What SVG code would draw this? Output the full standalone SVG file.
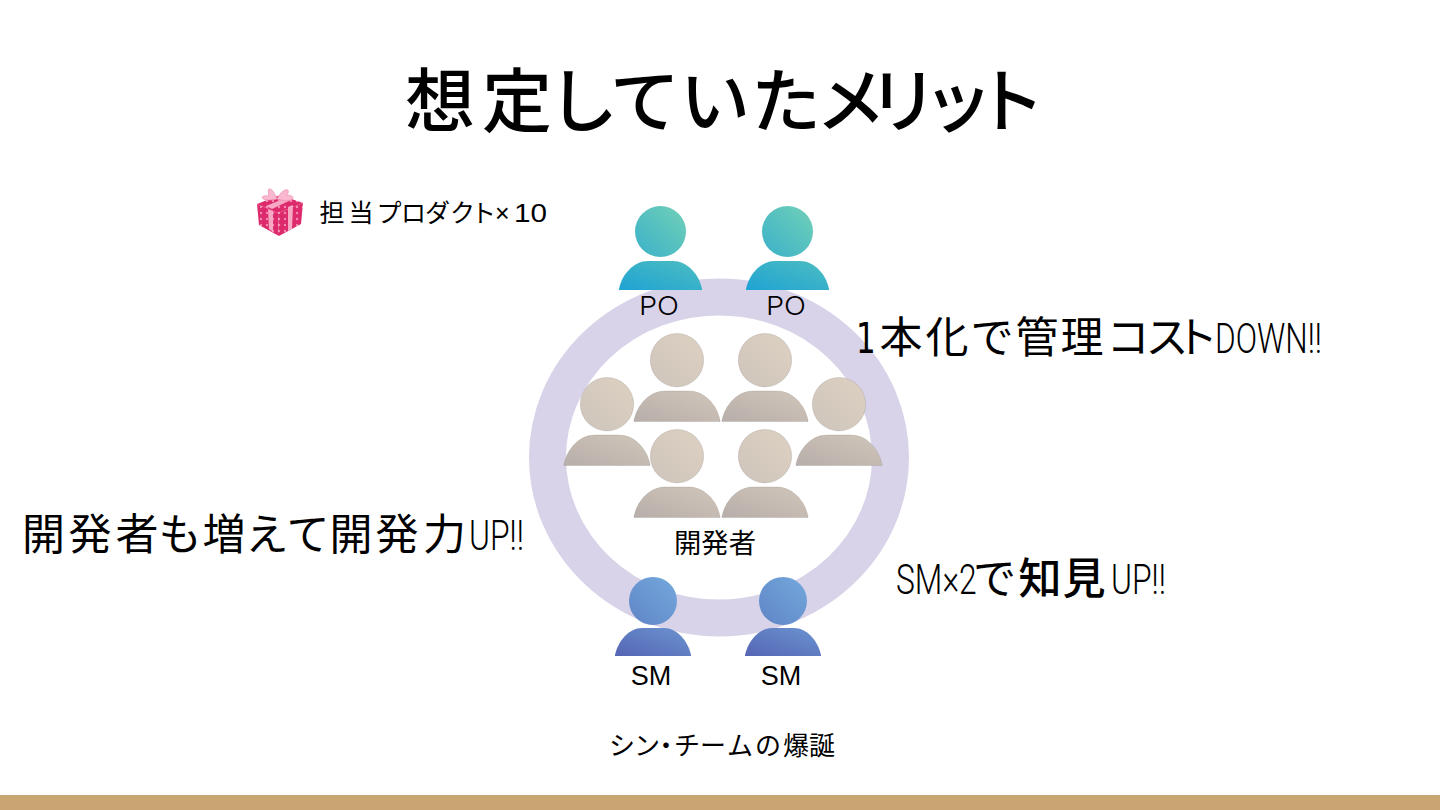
<svg xmlns="http://www.w3.org/2000/svg" width="1440" height="810" viewBox="0 0 1440 810">
<style>
.t{font-family:"Noto Sans CJK JP","Noto Sans",sans-serif;fill:#000}
.l{font-family:"Inter","Liberation Sans",sans-serif;font-weight:300;fill:#000;font-size:26px;text-anchor:middle}
.s{font-family:"Liberation Sans",sans-serif;fill:#000;font-size:27px;text-anchor:middle}
.n{font-family:"Roboto","Liberation Sans",sans-serif;font-weight:300;fill:#000}
.d{font-family:"DejaVu Sans",sans-serif;fill:#000}
.a{font-family:"Liberation Sans",sans-serif;fill:#000}
.edge{stroke:#8a7f7a;stroke-width:.4;stroke-opacity:.6}
</style>
<defs>
<linearGradient id="poH" x1="0" y1="1" x2="1" y2="0"><stop offset="0" stop-color="#3ab1c8"/><stop offset="1" stop-color="#72d0b8"/></linearGradient>
<linearGradient id="poB" x1="0" y1="1" x2="1" y2="0"><stop offset="0" stop-color="#1fa3d4"/><stop offset="1" stop-color="#4dbdc0"/></linearGradient>
<linearGradient id="smH" x1="0" y1="1" x2="1" y2="0"><stop offset="0" stop-color="#5f85c6"/><stop offset="1" stop-color="#74a8dc"/></linearGradient>
<linearGradient id="smB" x1="0" y1="1" x2="1" y2="0"><stop offset="0" stop-color="#5565b4"/><stop offset="1" stop-color="#6b94d0"/></linearGradient>
<linearGradient id="dvH" x1="0" y1="1" x2="1" y2="0"><stop offset="0" stop-color="#cfc4ba"/><stop offset="1" stop-color="#dcd1c2"/></linearGradient>
<linearGradient id="dvB" x1="0" y1="1" x2="1" y2="0"><stop offset="0" stop-color="#b8aeaa"/><stop offset="1" stop-color="#d0c6ba"/></linearGradient>
<pattern id="dots" width="6" height="6" patternUnits="userSpaceOnUse"><rect width="6" height="6" fill="#dd2a6c"/><circle cx="3" cy="3" r="1.2" fill="#f58ab0"/></pattern>
<g id="po"><circle cx="41.500" cy="25.500" r="25.500" fill="url(#poH)"/><path d="M0 84V83C3 68 15 55 29 55H54C68 55 80 68 83 83V84Z" fill="url(#poB)"/></g>
<g id="dv"><circle cx="43" cy="26.700" r="26.700" fill="url(#dvH)" class="edge"/><path d="M0 88V87C3 71 16 57.500 31 57.500H55C70 57.500 83 71 86 87V88Z" fill="url(#dvB)" class="edge"/></g>
<g id="sm"><circle cx="38" cy="24" r="24" fill="url(#smH)"/><path d="M0 79V78C3 64 14 51 27 51H49C62 51 73 64 76 78V79Z" fill="url(#smB)"/></g>
</defs>
<rect width="1440" height="810" fill="#fff"/>
<rect y="795" width="1440" height="15" fill="#c9a671"/>
<text class="t" y="127" font-size="70" font-weight="500" x="405 482 548 610 680 751 816 868 923 975">想定していたメリット</text>
<g id="ring"><ellipse cx="719" cy="457.500" rx="171.500" ry="160.500" fill="none" stroke="#d9d3e9" stroke-width="37"/></g>
<g id="connectors"/>
<g id="gift">
<polygon points="257,204 278,213 279,236 259,225" fill="url(#dots)"/>
<polygon points="278,213 303,203 301,224 279,236" fill="url(#dots)"/>
<polygon points="257,204 280,195 303,203 278,213" fill="url(#dots)"/>
<polygon points="268,209 273,211 273,232 269,229" fill="#f7a9c4"/>
<polygon points="288,207 293,205 292,229 288,231" fill="#f7a9c4"/>
<polygon points="266,206 288,197 293,199 272,209" fill="#f7a9c4"/>
<path d="M277 199C272 186 266 186 269 196C258 194 260 203 277 199C292 204 299 196 287 195C292 187 282 188 277 199Z" fill="#f9b8cf" stroke="#ee8fb0" stroke-width=".7"/>
</g>
<g id="label-products"><text class="t" y="222" font-size="25"><tspan x="319.500 348.500 376.500 401 425 450 471">担当プロダクト</tspan><tspan class="a" x="495">×</tspan><tspan class="a" x="514" textLength="33" lengthAdjust="spacingAndGlyphs">10</tspan></text></g>
<g id="po1"><use href="#po" x="619" y="206"/><text class="l" x="659" y="315" textLength="40" lengthAdjust="spacingAndGlyphs">PO</text></g>
<g id="po2"><use href="#po" x="746" y="206"/><text class="l" x="786" y="315" textLength="40" lengthAdjust="spacingAndGlyphs">PO</text></g>
<g id="dev1"><use href="#dv" x="634" y="333.500"/></g>
<g id="dev2"><use href="#dv" x="722" y="333.500"/></g>
<g id="dev3"><use href="#dv" x="564" y="377.500"/></g>
<g id="dev4"><use href="#dv" x="796" y="377.500"/></g>
<g id="dev5"><use href="#dv" x="634" y="429.500"/></g>
<g id="dev6"><use href="#dv" x="722" y="429.500"/></g>
<g id="devlabel"><text class="t" x="715" y="553" font-size="27" text-anchor="middle" textLength="82" lengthAdjust="spacingAndGlyphs">開発者</text></g>
<g id="sm1"><use href="#sm" x="615" y="577"/><text class="s" x="651" y="685">SM</text></g>
<g id="sm2"><use href="#sm" x="745" y="577"/><text class="s" x="781" y="685">SM</text></g>
<g id="merit1"><text class="d" font-size="43" transform="translate(856 353) scale(.72 1)">1</text><text y="353" font-size="43"><tspan class="t" x="879.500 925.500 970.500 1015.500 1060.500 1106.500 1145.500 1175">本化で管理コスト</tspan><tspan class="n" x="1215" textLength="107" lengthAdjust="spacingAndGlyphs">DOWN!!</tspan></text></g>
<g id="merit2"><text y="550" font-size="43"><tspan class="t" x="22 68.500 115.500 158.500 202.500 245.500 286.500 329.500 375.500 423">開発者も増えて開発力</tspan><tspan class="n" x="469" textLength="55" lengthAdjust="spacingAndGlyphs">UP!!</tspan></text></g>
<g id="merit3"><text class="n" font-size="43" transform="translate(896 594) scale(.74 1)">SM×2</text><text y="594" font-size="43"><tspan class="t" x="973">で</tspan><tspan class="t" font-weight="500" x="1018.500 1062.500">知見</tspan><tspan class="n" x="1111" textLength="55" lengthAdjust="spacingAndGlyphs">UP!!</tspan></text></g>
<g id="caption"><text class="t" y="755" font-size="26" x="609 634 653 674 700 727 755 783 809">シン・チームの爆誕</text></g>
</svg>
